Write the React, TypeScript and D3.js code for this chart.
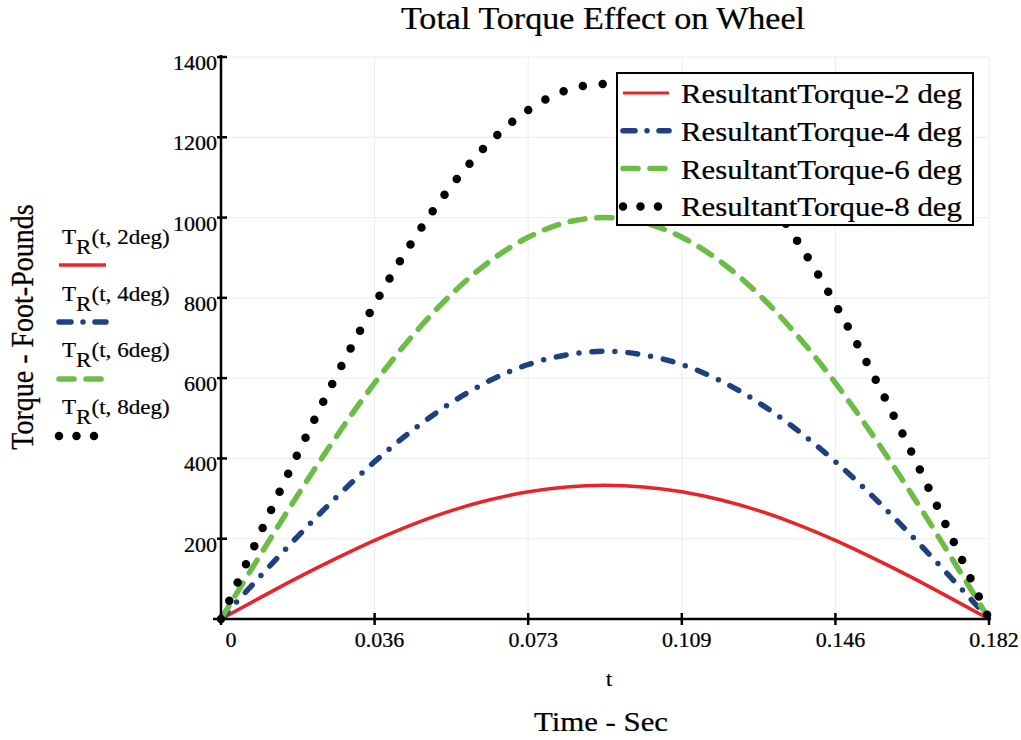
import React from "react";
import * as d3 from "d3";

const times = [0, 0.0091, 0.0182, 0.0273, 0.0364, 0.0455, 0.0546, 0.0637, 0.0728, 0.0819, 0.091, 0.1001, 0.1092, 0.1183, 0.1274, 0.1365, 0.1456, 0.1547, 0.1638, 0.1729, 0.182];
const torque2 = [0, 52, 103, 151, 196, 236, 270, 297, 317, 329, 333, 329, 317, 297, 270, 236, 196, 151, 103, 52, 0];
const torque4 = [0, 104, 206, 303, 392, 471, 539, 594, 634, 658, 667, 658, 634, 594, 539, 471, 392, 303, 206, 104, 0];
const torque6 = [0, 156, 309, 454, 588, 707, 809, 891, 951, 988, 1000, 988, 951, 891, 809, 707, 588, 454, 309, 156, 0];
const torque8 = [0, 209, 412, 605, 784, 943, 1079, 1188, 1268, 1317, 1333, 1317, 1268, 1188, 1079, 943, 784, 605, 412, 209, 0];

const xTicks = [0, 0.0364, 0.0728, 0.1092, 0.1456, 0.182];
const xTickLabels = ["0", "0.036", "0.073", "0.109", "0.146", "0.182"];
const yTicks = [200, 400, 600, 800, 1000, 1200, 1400];

const legendLabels = ["ResultantTorque-2 deg", "ResultantTorque-4 deg", "ResultantTorque-6 deg", "ResultantTorque-8 deg"];
const sideLabels = ["2deg", "4deg", "6deg", "8deg"];

const FONT = "'Liberation Serif', 'Times New Roman', serif";
const SX = 1.1;

const styles = [
  { color: "#e8242a", width: 3.5, dash: "", cap: "butt" },
  { color: "#1f4180", width: 5.5, dash: "10 13 0 13", cap: "round" },
  { color: "#6cbd45", width: 5.5, dash: "15 12", cap: "round" },
  { color: "#000000", width: 8.5, dash: "0 20", cap: "round" },
];
const legendDash = ["", "12 12 0 12", "15 12", "0 17.5"];

function T({ x, y, size, anchor = "start", children, rotate = 0 }: any) {
  const tr = rotate
    ? `translate(${x},${y}) rotate(${rotate}) scale(1,${SX})`
    : `translate(${x},${y}) scale(${SX},1)`;
  return (
    <text transform={tr} fontFamily={FONT} fontSize={size} textAnchor={anchor} fill="#000" stroke="#000" strokeWidth={0.25}>
      {children}
    </text>
  );
}

export default function App() {
  const x = d3.scaleLinear().domain([0, 0.182]).range([221, 989]);
  const y = d3.scaleLinear().domain([0, 1400]).range([619, 57]);
  const series = [torque2, torque4, torque6, torque8];
  const line = d3
    .line<number>()
    .x((_, i) => x(times[i]))
    .y((d) => y(d))
    .curve(d3.curveMonotoneX);

  return (
    <svg width={1021} height={740} style={{ position: "absolute", left: 0, top: 0, background: "#fff" }}>
      <rect width={1021} height={740} fill="#fff" />
      {xTicks.slice(1).map((t, i) => (
        <line key={"gx" + i} x1={x(t)} x2={x(t)} y1={y(0)} y2={y(1400)} stroke="#ececec" strokeWidth={1} />
      ))}
      {yTicks.map((t, i) => (
        <line key={"gy" + i} x1={x(0)} x2={x(0.182)} y1={y(t)} y2={y(t)} stroke="#ececec" strokeWidth={1} />
      ))}
      {series.map((s, i) => (
        <path
          key={"s" + i}
          d={line(s) || ""}
          fill="none"
          stroke={styles[i].color}
          strokeWidth={styles[i].width}
          strokeDasharray={styles[i].dash || undefined}
          strokeLinecap={styles[i].cap as any}
          strokeLinejoin="round"
        />
      ))}
      <line x1={213} x2={991} y1={y(0)} y2={y(0)} stroke="#000" strokeWidth={2.5} />
      <line x1={x(0)} x2={x(0)} y1={624} y2={y(1400) - 2} stroke="#000" strokeWidth={2.5} />
      {xTicks.map((t, i) => (
        <line key={"xt" + i} x1={x(t)} x2={x(t)} y1={y(0) - 6} y2={y(0) + 6} stroke="#000" strokeWidth={2.5} />
      ))}
      {yTicks.map((t, i) => (
        <line key={"yt" + i} x1={x(0) - 4} x2={x(0) + 6} y1={y(t)} y2={y(t)} stroke="#000" strokeWidth={2.5} />
      ))}
      {xTickLabels.map((l, i) => (
        <T key={"xl" + i} x={x(xTicks[i]) + (i === 0 ? 10 : 5)} y={647} size={20} anchor="middle">
          {l}
        </T>
      ))}
      {yTicks.map((t, i) => (
        <T key={"yl" + i} x={217} y={y(t) + 13} size={20} anchor="end">
          {String(t)}
        </T>
      ))}
      <T x={603} y={29} size={31} anchor="middle">Total Torque Effect on Wheel</T>
      <T x={609} y={686} size={20} anchor="middle">t</T>
      <T x={601} y={731} size={28} anchor="middle">Time - Sec</T>
      <T x={33} y={327} size={28} anchor="middle" rotate={-90}>Torque - Foot-Pounds</T>
      {sideLabels.map((l, i) => (
        <g key={"sl" + i}>
          <text transform={`translate(62,${244 + i * 56.7}) scale(${SX},1)`} fontFamily={FONT} fontSize={21} fill="#000" stroke="#000" strokeWidth={0.2}>
            <tspan>T</tspan>
            <tspan dy={10}>R</tspan>
            <tspan dy={-10}>{`(t, ${l})`}</tspan>
          </text>
          <line
            x1={59}
            x2={106}
            y1={265 + i * 57}
            y2={265 + i * 57}
            stroke={styles[i].color}
            strokeWidth={i === 0 ? 3.5 : styles[i].width}
            strokeDasharray={legendDash[i] || undefined}
            strokeLinecap={i === 0 ? "butt" : "round"}
          />
        </g>
      ))}
      <rect x={617} y={73} width={356} height={152} fill="#fff" stroke="#000" strokeWidth={2} />
      {legendLabels.map((l, i) => {
        const yy = 93 + i * 37.8;
        return (
          <g key={"lg" + i}>
            <line
              x1={623}
              x2={669}
              y1={yy}
              y2={yy}
              stroke={styles[i].color}
              strokeWidth={i === 0 ? 3 : styles[i].width}
              strokeDasharray={legendDash[i] || undefined}
              strokeLinecap={i === 0 ? "butt" : "round"}
            />
            <T x={681} y={yy + 10} size={28}>{l}</T>
          </g>
        );
      })}
    </svg>
  );
}
